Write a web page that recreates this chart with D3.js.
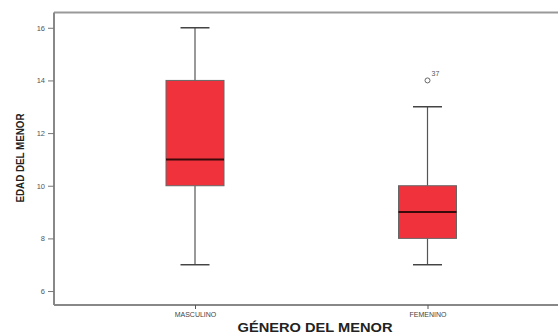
<!DOCTYPE html>
<html><head><meta charset="utf-8">
<script src="https://cdn.jsdelivr.net/npm/d3@7"></script>
<style>body{margin:0;background:#fff}svg{display:block}</style>
</head><body>
<svg id="c" width="558" height="334"></svg>
<script>
const categories = ["MASCULINO", "FEMENINO"];
const mins    = [7, 7];
const q1s     = [10, 8];
const medians = [11, 9];
const q3s     = [14, 10];
const maxs    = [16, 13];
const outlierValues = [[], [14]];
const outlierLabels = [[], ["37"]];
const yTicks = [6, 8, 10, 12, 14, 16];

(function(){
const svg = d3.select("#c");
const pL = 54, pR = 558, pT = 12.5, pB = 305;
const y = d3.scaleLinear().domain([5.47, 16.58]).range([pB, pT]);
const x = d3.scalePoint().domain(categories).range([195, 427.5]);
const boxW = 58, capW = 29;

// frame
svg.append("line").attr("x1", pL).attr("x2", pR).attr("y1", pT).attr("y2", pT)
  .attr("stroke", "#999").attr("stroke-width", 2);

// y axis
const ya = svg.append("g").attr("transform", `translate(${pL},0)`)
  .call(d3.axisLeft(y).tickValues(yTicks).tickSize(6).tickPadding(3).tickSizeOuter(0));
ya.select(".domain").attr("stroke", "#888").attr("stroke-width", 2)
  .attr("d", `M0,${pT}V${pB}`);
ya.selectAll(".tick line").attr("stroke", "#777");
ya.selectAll(".tick text").attr("font-family", "Liberation Sans, Arial, sans-serif")
  .attr("font-size", 7.5).attr("fill", "#555");

// x axis
const xa = svg.append("g").attr("transform", `translate(0,${pB})`)
  .call(d3.axisBottom(x).tickSize(4).tickPadding(3).tickSizeOuter(0));
xa.select(".domain").attr("stroke", "#888").attr("stroke-width", 2)
  .attr("d", `M${pL},0H${pR}`);
xa.selectAll(".tick line").attr("stroke", "#555");
xa.selectAll(".tick text").attr("font-family", "Liberation Sans, Arial, sans-serif")
  .attr("font-size", 7).attr("fill", "#444");

// boxes
categories.forEach((c, i) => {
  const cx = x(c);
  const g = svg.append("g");
  g.append("line").attr("x1", cx).attr("x2", cx).attr("y1", y(q3s[i])).attr("y2", y(maxs[i]))
    .attr("stroke", "#555").attr("stroke-width", 1.2);
  g.append("line").attr("x1", cx).attr("x2", cx).attr("y1", y(q1s[i])).attr("y2", y(mins[i]))
    .attr("stroke", "#555").attr("stroke-width", 1.2);
  g.append("line").attr("x1", cx - capW/2).attr("x2", cx + capW/2).attr("y1", y(maxs[i])).attr("y2", y(maxs[i]))
    .attr("stroke", "#444").attr("stroke-width", 1.5);
  g.append("line").attr("x1", cx - capW/2).attr("x2", cx + capW/2).attr("y1", y(mins[i])).attr("y2", y(mins[i]))
    .attr("stroke", "#444").attr("stroke-width", 1.5);
  g.append("rect").attr("x", cx - boxW/2).attr("y", y(q3s[i]))
    .attr("width", boxW).attr("height", y(q1s[i]) - y(q3s[i]))
    .attr("fill", "#f0323c").attr("stroke", "#666").attr("stroke-width", 1);
  g.append("line").attr("x1", cx - boxW/2).attr("x2", cx + boxW/2).attr("y1", y(medians[i])).attr("y2", y(medians[i]))
    .attr("stroke", "#3a0a0a").attr("stroke-width", 2);
  outlierValues[i].forEach((v, j) => {
    g.append("circle").attr("cx", cx).attr("cy", y(v)).attr("r", 2.5)
      .attr("fill", "none").attr("stroke", "#666").attr("stroke-width", 1);
    g.append("text").attr("x", cx + 4).attr("y", y(v) - 4).text(outlierLabels[i][j])
      .attr("font-family", "Liberation Sans, Arial, sans-serif").attr("font-size", 7).attr("fill", "#555");
  });
});

// axis titles
svg.append("text").attr("x", 315).attr("y", 332).attr("text-anchor", "middle")
  .attr("font-family", "Liberation Sans, Arial, sans-serif").attr("font-weight", "bold")
  .attr("font-size", 12).attr("fill", "#222").attr("textLength", 155).attr("lengthAdjust", "spacingAndGlyphs")
  .text("GÉNERO DEL MENOR");
svg.append("text").attr("transform", "translate(24,158) rotate(-90)").attr("text-anchor", "middle")
  .attr("font-family", "Liberation Sans, Arial, sans-serif").attr("font-weight", "bold")
  .attr("font-size", 11).attr("fill", "#222").attr("textLength", 89).attr("lengthAdjust", "spacingAndGlyphs")
  .text("EDAD DEL MENOR");
})();
</script>
</body></html>
